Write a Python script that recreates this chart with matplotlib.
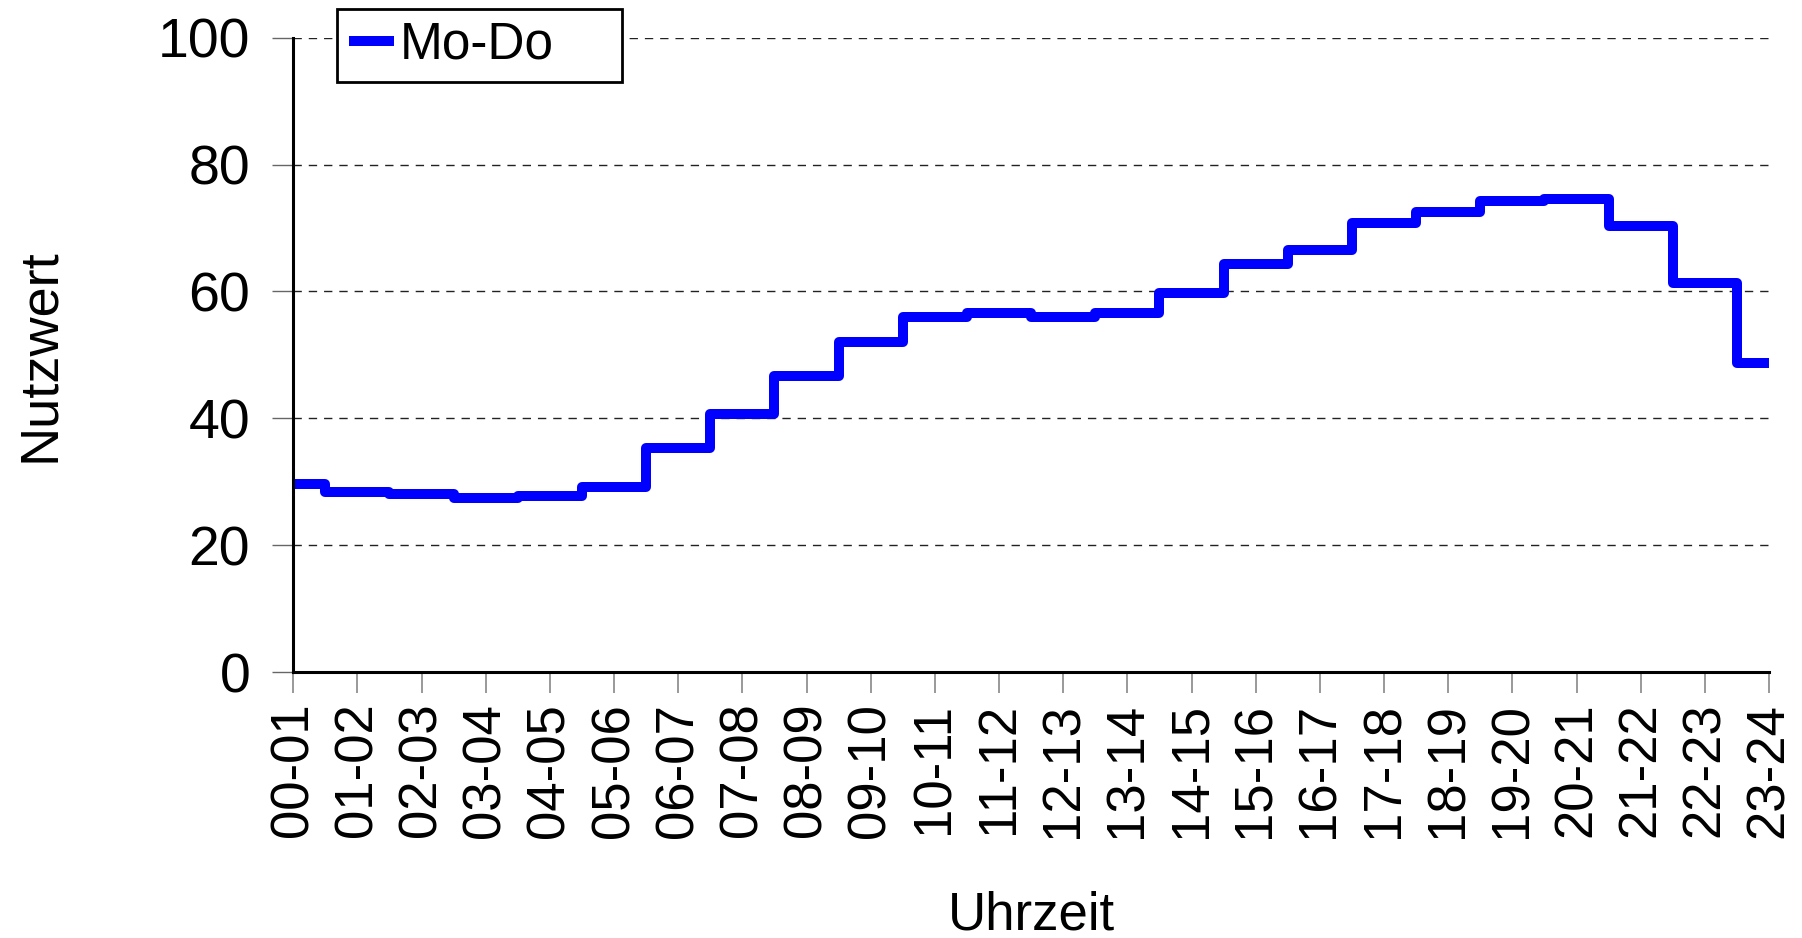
import numpy as np
import matplotlib.pyplot as plt

# data
hours = ["00-01", "01-02", "02-03", "03-04", "04-05", "05-06", "06-07", "07-08",
         "08-09", "09-10", "10-11", "11-12", "12-13", "13-14", "14-15", "15-16",
         "16-17", "17-18", "18-19", "19-20", "20-21", "21-22", "22-23", "23-24"]
mo_do = [29.6, 28.4, 28.1, 27.4, 27.7, 29.2, 35.4, 40.7,
         46.7, 52.0, 56.0, 56.6, 55.9, 56.6, 59.7, 64.4,
         66.6, 70.8, 72.5, 74.2, 74.5, 70.3, 61.3, 48.7]
yticks = [0, 20, 40, 60, 80, 100]

plt.rcParams['font.family'] = ['Liberation Sans', 'DejaVu Sans']

fig = plt.figure(figsize=(18.02, 9.38), dpi=100)
# axes box in figure fractions (left, bottom, width, height)
ax = fig.add_axes([0.1627, 0.2835, 0.9817 - 0.1627, 0.9598 - 0.2835])

x = np.arange(len(hours))
ax.step(x, mo_do, where='mid', color='#0000FF', lw=7.2, label='Mo-Do',
        solid_joinstyle='round', solid_capstyle='butt')

ax.set_xlim(0, len(hours) - 1)
ax.set_ylim(0, 100)
ax.set_yticks(yticks)
ax.set_xticks(x)
ax.set_xticklabels(hours, rotation=90)

for s in ['top', 'right']:
    ax.spines[s].set_visible(False)
for s in ['left', 'bottom']:
    ax.spines[s].set_linewidth(2.2)
    ax.spines[s].set_color('black')

ax.yaxis.grid(True, linestyle=(0, (6, 5)), color='#222222', lw=1)
ax.set_axisbelow(True)
ax.tick_params(axis='y', direction='out', length=15, width=1, color='#666666',
               labelsize=40, pad=16)
ax.tick_params(axis='x', direction='out', length=15, width=1.2, color='#888888',
               labelsize=38, pad=7)

ax.set_ylabel("Nutzwert", fontsize=39, labelpad=67)
ax.set_xlabel("Uhrzeit", fontsize=38, labelpad=38)

leg = ax.legend(loc='upper left', bbox_to_anchor=(0.187, 0.9126, 0.158, 0.0778),
                bbox_transform=fig.transFigure, mode='expand', fontsize=37,
                handlelength=0.88, handletextpad=0.12, borderpad=0.23,
                fancybox=False, framealpha=1, borderaxespad=0)
leg.get_frame().set_edgecolor('black')
leg.get_frame().set_linewidth(2)

plt.savefig('out.png', dpi=100)
